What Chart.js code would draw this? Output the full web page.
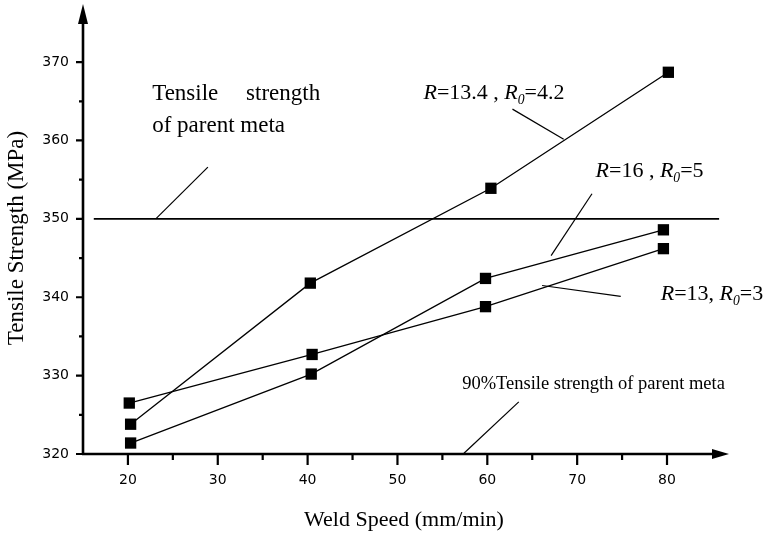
<!DOCTYPE html>
<html>
<head>
<meta charset="utf-8">
<script src="https://cdn.jsdelivr.net/npm/chart.js@4.4.1/dist/chart.umd.min.js"></script>
<style>
  html, body { margin: 0; padding: 0; background: #fff; }
  canvas { display: block; }
</style>
</head>
<body>
<canvas id="chart" width="768" height="534"></canvas>
<script>
// weld speed (mm/min) and tensile strength (MPa)
const speedA = [20.3, 40.3, 60.4, 80.15];
const strengthA = [323.8, 341.8, 353.9, 368.7];   // R=13.4 , R0=4.2
const speedB = [20.3, 40.4, 59.8, 79.6];
const strengthB = [321.4, 330.2, 342.4, 348.6];   // R=16 , R0=5
const speedC = [20.15, 40.5, 59.8, 79.6];
const strengthC = [326.5, 332.7, 338.8, 346.2];   // R=13, R0=3

const parentLevel = 350;
const parentSpan = [16.2, 85.8];

const xTicks = [20, 30, 40, 50, 60, 70, 80];
const xMinor = [25, 35, 45, 55, 65, 75];
const yTicks = [320, 330, 340, 350, 360, 370];
const yMinor = [325, 335, 345, 355, 365];

// leader lines from the notes to the curves
const leaders = [
  [[23.1, 350], [28.9, 356.6]],
  [[62.8, 364.0], [68.5, 360.15]],
  [[71.65, 353.2], [67.1, 345.3]],
  [[74.85, 340.1], [66.1, 341.5]],
  [[63.5, 326.65], [57.4, 320.1]]
];

function pts(xs, ys) {
  return xs.map((x, i) => ({ x: x, y: ys[i] }));
}

const series = [
  { label: 'R=13.4 , R0=4.2', data: pts(speedA, strengthA) },
  { label: 'R=16 , R0=5', data: pts(speedB, strengthB) },
  { label: 'R=13, R0=3', data: pts(speedC, strengthC) }
];

const datasets = series.map(s => ({
  label: s.label,
  data: s.data,
  borderColor: '#000',
  backgroundColor: '#000',
  borderWidth: 1.3,
  pointStyle: 'rect',
  pointRadius: 8,
  pointBorderWidth: 0,
  tension: 0
}));

datasets.push({
  label: 'parent',
  data: parentSpan.map(x => ({ x: x, y: parentLevel })),
  borderColor: '#000',
  borderWidth: 1.6,
  pointRadius: 0
});

leaders.forEach(l => {
  datasets.push({
    label: 'leader',
    data: l.map(p => ({ x: p[0], y: p[1] })),
    borderColor: '#000',
    borderWidth: 1.2,
    pointRadius: 0
  });
});

const serif = '"Liberation Serif", "Times New Roman", serif';

function drawRich(ctx, parts, x, y, size) {
  let cx = x;
  parts.forEach(p => {
    const it = p[1] && p[1].indexOf('i') >= 0;
    const sub = p[1] && p[1].indexOf('s') >= 0;
    const s = sub ? size * 0.62 : size;
    ctx.font = (it ? 'italic ' : '') + s + 'px ' + serif;
    ctx.fillText(p[0], cx, y + (sub ? size * 0.2 : 0));
    cx += ctx.measureText(p[0]).width;
  });
}

const overlay = {
  id: 'overlay',
  afterDraw(chart) {
    const ctx = chart.ctx;
    const xs = chart.scales.x, ys = chart.scales.y;
    const a = chart.chartArea;
    ctx.save();
    ctx.fillStyle = '#000';
    ctx.strokeStyle = '#000';

    // axes with arrow heads
    ctx.lineWidth = 2.6;
    ctx.beginPath();
    ctx.moveTo(a.left, a.bottom + 1);
    ctx.lineTo(a.left, a.top + 12);
    ctx.moveTo(a.left - 1, a.bottom);
    ctx.lineTo(a.right - 14, a.bottom);
    ctx.stroke();
    ctx.beginPath();
    ctx.moveTo(a.left - 5, a.top + 16);
    ctx.lineTo(a.left, a.top - 4);
    ctx.lineTo(a.left + 5, a.top + 16);
    ctx.closePath();
    ctx.fill();
    ctx.beginPath();
    ctx.moveTo(a.right - 17, a.bottom - 5);
    ctx.lineTo(a.right, a.bottom);
    ctx.lineTo(a.right - 17, a.bottom + 5);
    ctx.closePath();
    ctx.fill();

    // tick marks
    ctx.lineWidth = 2.2;
    ctx.beginPath();
    xTicks.forEach(v => { const p = xs.getPixelForValue(v); ctx.moveTo(p, a.bottom); ctx.lineTo(p, a.bottom + 11); });
    xMinor.forEach(v => { const p = xs.getPixelForValue(v); ctx.moveTo(p, a.bottom); ctx.lineTo(p, a.bottom + 6); });
    yTicks.forEach(v => { const p = ys.getPixelForValue(v); ctx.moveTo(a.left, p); ctx.lineTo(a.left - 7, p); });
    yMinor.forEach(v => { const p = ys.getPixelForValue(v); ctx.moveTo(a.left, p); ctx.lineTo(a.left - 4, p); });
    ctx.stroke();

    // axis titles
    ctx.textBaseline = 'alphabetic';
    ctx.textAlign = 'center';
    ctx.font = '22px ' + serif;
    ctx.fillText('Weld Speed (mm/min)', 404, 526);
    ctx.save();
    ctx.translate(23, 238);
    ctx.rotate(-Math.PI / 2);
    ctx.font = '23px ' + serif;
    ctx.fillText('Tensile Strength (MPa)', 0, 0);
    ctx.restore();

    // notes
    ctx.textAlign = 'left';
    const X = v => xs.getPixelForValue(v), Y = v => ys.getPixelForValue(v);
    ctx.font = '23px ' + serif;
    ctx.fillText('Tensile', X(22.7), Y(365.2));
    ctx.fillText('strength', X(33.15), Y(365.2));
    ctx.fillText('of parent meta', X(22.7), Y(361.1));
    drawRich(ctx, [['R', 'i'], ['=13.4 , '], ['R', 'i'], ['0', 'is'], ['=4.2']], X(52.9), Y(365.25), 22);
    drawRich(ctx, [['R', 'i'], ['=16 , '], ['R', 'i'], ['0', 'is'], ['=5']], X(72.05), Y(355.3), 22);
    drawRich(ctx, [['R', 'i'], ['=13, '], ['R', 'i'], ['0', 'is'], ['=3']], X(79.3), Y(339.6), 22);
    ctx.font = '18.5px ' + serif;
    ctx.fillText('90%Tensile strength of parent meta', X(57.2), Y(328.25));
    ctx.restore();
  }
};

new Chart(document.getElementById('chart').getContext('2d'), {
  type: 'line',
  data: { datasets: datasets },
  options: {
    responsive: false,
    animation: false,
    layout: { padding: { left: 0, top: 1, right: 39, bottom: 0 } },
    plugins: {
      legend: { display: false },
      tooltip: { enabled: false }
    },
    scales: {
      x: {
        type: 'linear',
        min: 15,
        max: 86.9,
        afterBuildTicks: s => { s.ticks = xTicks.map(v => ({ value: v })); },
        afterFit: s => { s.height = 80; s.paddingLeft = 0; s.paddingRight = 0; },
        grid: { display: false, drawTicks: false, tickLength: 0 },
        border: { display: false },
        ticks: {
          padding: 18,
          color: '#000',
          maxRotation: 0,
          font: { family: '"DejaVu Sans", sans-serif', size: 14 }
        }
      },
      y: {
        type: 'linear',
        min: 320,
        max: 376.9,
        afterBuildTicks: s => { s.ticks = yTicks.map(v => ({ value: v })); },
        afterFit: s => { s.width = 83; s.paddingTop = 0; s.paddingBottom = 0; },
        grid: { display: false, drawTicks: false, tickLength: 0 },
        border: { display: false },
        ticks: {
          padding: 14,
          color: '#000',
          font: { family: '"DejaVu Sans", sans-serif', size: 14 }
        }
      }
    }
  },
  plugins: [overlay]
});
</script>
</body>
</html>
